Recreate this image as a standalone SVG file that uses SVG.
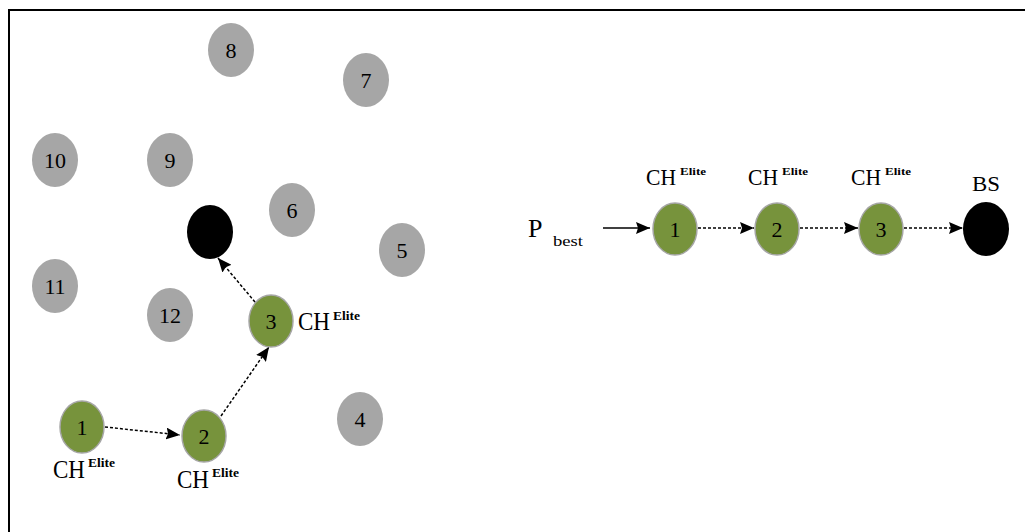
<svg xmlns="http://www.w3.org/2000/svg" width="1025" height="532" viewBox="0 0 1025 532">
<defs>
<marker id="ah" viewBox="0 0 14 12" refX="14" refY="6" markerWidth="14" markerHeight="12" markerUnits="userSpaceOnUse" orient="auto">
<path d="M0,0 L14,6 L0,12 L2,6 Z" fill="#000"/>
</marker>
<style>
.g{fill:#a6a6a6}
.e{fill:#77933c;stroke:#a6a6a6;stroke-width:1.5}
.b{fill:#000}
.n{font-family:"Liberation Serif","Times New Roman",serif;font-size:22px;fill:#000;text-anchor:middle}
.t{font-family:"Liberation Serif","Times New Roman",serif;fill:#000}
.sup{font-weight:bold}
.d{stroke:#000;stroke-width:1.5;stroke-dasharray:3 2;fill:none}
.s{stroke:#000;stroke-width:1.5;fill:none}
</style>
</defs>
<rect width="1025" height="532" fill="#fff"/>
<path d="M9,545 L9,10 L1030,10" fill="none" stroke="#000" stroke-width="2"/>

<g id="n8"><ellipse class="g" cx="231" cy="50" rx="23" ry="27"/><text class="n" x="231" y="58">8</text></g>
<g id="n7"><ellipse class="g" cx="366" cy="80" rx="23" ry="27"/><text class="n" x="366" y="88">7</text></g>
<g id="n10"><ellipse class="g" cx="55" cy="160" rx="23" ry="27"/><text class="n" x="55" y="168">10</text></g>
<g id="n9"><ellipse class="g" cx="170" cy="160" rx="23" ry="27"/><text class="n" x="170" y="168">9</text></g>
<g id="n6"><ellipse class="g" cx="292" cy="210" rx="23" ry="27"/><text class="n" x="292" y="218">6</text></g>
<g id="n5"><ellipse class="g" cx="402" cy="250" rx="23" ry="27"/><text class="n" x="402" y="258">5</text></g>
<g id="n11"><ellipse class="g" cx="55" cy="286" rx="23" ry="27"/><text class="n" x="55" y="294">11</text></g>
<g id="n12"><ellipse class="g" cx="170" cy="315" rx="23" ry="27"/><text class="n" x="170" y="323">12</text></g>
<g id="n4"><ellipse class="g" cx="360" cy="419" rx="23" ry="27"/><text class="n" x="360" y="427">4</text></g>
<g id="bsL"><ellipse class="b" cx="210" cy="232" rx="23" ry="27"/></g>

<g id="c3"><ellipse class="e" cx="271" cy="321" rx="22" ry="26"/><text class="n" x="271" y="329">3</text>
<text class="t" x="298" y="330" font-size="25" textLength="32" lengthAdjust="spacingAndGlyphs">CH</text>
<text class="t sup" x="333" y="320" font-size="12" textLength="27" lengthAdjust="spacingAndGlyphs">Elite</text></g>
<g id="c1"><ellipse class="e" cx="82" cy="427" rx="22" ry="26"/><text class="n" x="82" y="435">1</text>
<text class="t" x="53" y="478" font-size="25" textLength="32" lengthAdjust="spacingAndGlyphs">CH</text>
<text class="t sup" x="88" y="467" font-size="12" textLength="27" lengthAdjust="spacingAndGlyphs">Elite</text></g>
<g id="c2"><ellipse class="e" cx="204" cy="436" rx="22" ry="26"/><text class="n" x="204" y="444">2</text>
<text class="t" x="177" y="488" font-size="25" textLength="32" lengthAdjust="spacingAndGlyphs">CH</text>
<text class="t sup" x="212" y="477" font-size="12" textLength="27" lengthAdjust="spacingAndGlyphs">Elite</text></g>

<g id="pbest"><text class="t" x="528" y="237" font-size="26">P</text>
<text class="t" x="553" y="246" font-size="14" textLength="30" lengthAdjust="spacingAndGlyphs">best</text></g>
<g id="r1"><ellipse class="e" cx="675" cy="229" rx="22" ry="26"/><text class="n" x="675" y="237">1</text>
<text class="t" x="646" y="185" font-size="23" textLength="30" lengthAdjust="spacingAndGlyphs">CH</text>
<text class="t sup" x="680" y="175" font-size="11" textLength="26" lengthAdjust="spacingAndGlyphs">Elite</text></g>
<g id="r2"><ellipse class="e" cx="777" cy="229" rx="22" ry="26"/><text class="n" x="777" y="237">2</text>
<text class="t" x="748" y="185" font-size="23" textLength="30" lengthAdjust="spacingAndGlyphs">CH</text>
<text class="t sup" x="782" y="175" font-size="11" textLength="26" lengthAdjust="spacingAndGlyphs">Elite</text></g>
<g id="r3"><ellipse class="e" cx="881" cy="229" rx="22" ry="26"/><text class="n" x="881" y="237">3</text>
<text class="t" x="851" y="185" font-size="23" textLength="30" lengthAdjust="spacingAndGlyphs">CH</text>
<text class="t sup" x="885" y="175" font-size="11" textLength="26" lengthAdjust="spacingAndGlyphs">Elite</text></g>
<g id="bsR"><ellipse class="b" cx="986" cy="229" rx="23" ry="27"/>
<text class="t" x="972" y="191" font-size="22" textLength="28" lengthAdjust="spacingAndGlyphs">BS</text></g>

<g id="connectors">
<line class="d" x1="105" y1="427" x2="180" y2="435" marker-end="url(#ah)"/>
<line class="d" x1="221" y1="416" x2="269" y2="347" marker-end="url(#ah)"/>
<line class="d" x1="255" y1="302" x2="218" y2="258" marker-end="url(#ah)"/>
<line class="s" x1="603" y1="228" x2="650" y2="228" marker-end="url(#ah)"/>
<line class="d" x1="698" y1="228" x2="754" y2="228" marker-end="url(#ah)"/>
<line class="d" x1="800" y1="228" x2="858" y2="228" marker-end="url(#ah)"/>
<line class="d" x1="904" y1="228" x2="963" y2="228" marker-end="url(#ah)"/>
</g>
</svg>
